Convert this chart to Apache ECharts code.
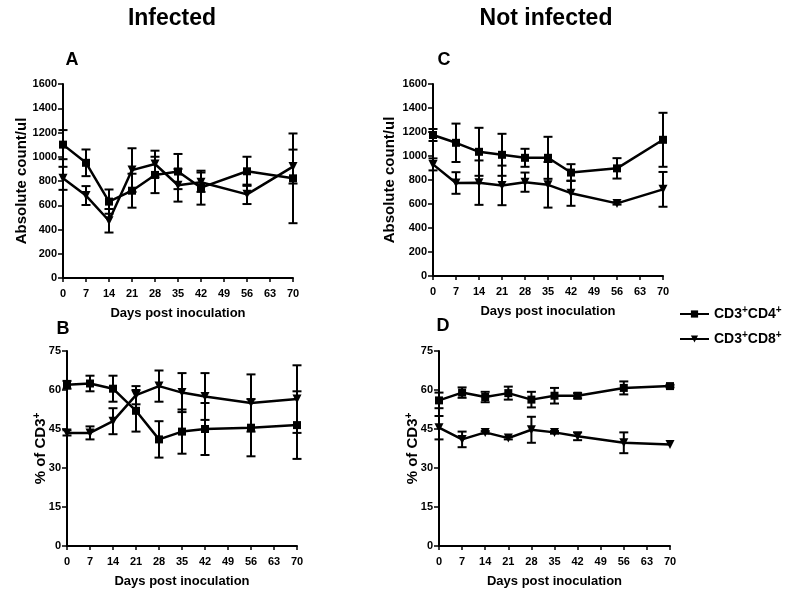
<!DOCTYPE html>
<html>
<head>
<meta charset="utf-8">
<script src="https://cdn.jsdelivr.net/npm/echarts@6/dist/echarts.min.js"></script>
<style>
html,body{margin:0;padding:0;background:#fff;}
#chart{width:800px;height:604px;}
</style>
</head>
<body>
<div id="chart"></div>
<script>
// ---- data ----
const days = [0, 7, 14, 21, 28, 35, 42, 56, 70];
const xTicks = [0, 7, 14, 21, 28, 35, 42, 49, 56, 63, 70];

// Panel A: infected, absolute count/ul
const aCD4 = [1100, 950, 630, 720, 850, 878, 745, 880, 822];
const aCD4Err = [120, 110, 100, 140, 150, 145, 140, 120, 370];
const aCD8 = [822, 680, 472, 890, 940, 765, 790, 690, 919];
const aCD8Err = [95, 78, 97, 180, 110, 135, 80, 80, 140];

// Panel B: infected, % of CD3+
const bCD4 = [62, 62.5, 60.5, 52, 41, 44, 45, 45.5, 46.5];
const bCD4Err = [1.5, 3, 5, 8, 7, 8.5, 10, 11, 13];
const bCD8 = [43.5, 43.5, 48, 58, 61.5, 59, 57.5, 55, 56.5];
const bCD8Err = [1, 2.5, 5, 3.5, 6, 7.5, 9, 11, 13];

// Panel C: not infected, absolute count/ul
const cCD4 = [1175, 1110, 1035, 1010, 985, 985, 862, 897, 1135];
const cCD4Err = [50, 160, 200, 175, 75, 175, 70, 85, 225];
const cCD8 = [930, 775, 778, 755, 782, 760, 690, 605, 722];
const cCD8Err = [50, 90, 185, 165, 80, 190, 105, 10, 145];

// Panel D: not infected, % of CD3+
const dCD4 = [56, 59, 57.3, 58.8, 56.3, 57.8, 57.8, 60.8, 61.5];
const dCD4Err = [3, 2, 2, 2.5, 3, 3, 1, 2.5, 0.5];
const dCD8 = [45.5, 41, 43.7, 41.5, 44.7, 43.7, 42.2, 39.7, 39];
const dCD8Err = [4.5, 3, 0.5, 0.5, 5, 0.5, 1.5, 4, 0];

const countTicks = { min: 0, max: 1600, interval: 200 };
const pctTicks = { min: 0, max: 75, interval: 15 };

// ---- chart ----
const FONT = "'Liberation Sans', Arial, sans-serif";
const chart = echarts.init(document.getElementById('chart'));

const grids = [
  { left: 63, top: 84, width: 230, height: 194 },
  { left: 67, top: 351, width: 230, height: 195 },
  { left: 433, top: 84, width: 230, height: 192 },
  { left: 439, top: 351, width: 231, height: 195 }
];

function xAxis(i) {
  return {
    type: 'value', gridIndex: i, min: 0, max: 70, interval: 7,
    name: 'Days post inoculation', nameLocation: 'middle', nameGap: 29,
    nameTextStyle: { fontFamily: FONT, fontWeight: 'bold', fontSize: 13, color: '#000' },
    axisLine: { show: true, onZero: false, lineStyle: { color: '#000', width: 2 } },
    axisTick: { show: true, length: 4, lineStyle: { color: '#000', width: 1.5 } },
    axisLabel: { fontFamily: FONT, fontWeight: 'bold', fontSize: 11, color: '#000', margin: 10 },
    splitLine: { show: false }
  };
}
function yAxis(i, ticks, isPct, gap) {
  return {
    type: 'value', gridIndex: i, min: ticks.min, max: ticks.max, interval: ticks.interval,
    name: isPct ? '{a|% of CD3}{s|+}' : 'Absolute count/ul',
    nameLocation: 'middle', nameGap: gap, nameMoveOverlap: false,
    nameTextStyle: {
      fontFamily: FONT, fontWeight: 'bold', fontSize: 15, color: '#000',
      rich: {
        a: { fontFamily: FONT, fontWeight: 'bold', fontSize: 15, color: '#000', lineHeight: 18 },
        s: { fontFamily: FONT, fontWeight: 'bold', fontSize: 10, color: '#000', verticalAlign: 'top', lineHeight: 10 }
      }
    },
    axisLine: { show: true, lineStyle: { color: '#000', width: 2 } },
    axisTick: { show: true, length: 5, lineStyle: { color: '#000', width: 1.5 } },
    axisLabel: { fontFamily: FONT, fontWeight: 'bold', fontSize: 11, color: '#000', margin: 6,
                 formatter: function (v) { return String(v); } },
    splitLine: { show: false }
  };
}

function lineSeries(name, vals, i, tri) {
  return {
    name: name, type: 'line', xAxisIndex: i, yAxisIndex: i,
    data: days.map((d, k) => [d, vals[k]]),
    symbol: tri ? 'triangle' : 'rect',
    symbolSize: tri ? 9 : 8,
    symbolRotate: tri ? 180 : 0,
    lineStyle: { color: '#000', width: 2.5 },
    itemStyle: { color: '#000' },
    z: 3
  };
}
function errRender(params, api) {
  const x = api.value(0), lo = api.value(1), hi = api.value(2);
  if (hi - lo <= 0) return null;
  const pH = api.coord([x, hi]);
  const pL = api.coord([x, lo]);
  const w = 4.5;
  const st = { stroke: '#000', lineWidth: 2 };
  return {
    type: 'group',
    children: [
      { type: 'line', shape: { x1: pH[0], y1: pH[1], x2: pL[0], y2: pL[1] }, style: st },
      { type: 'line', shape: { x1: pH[0] - w, y1: pH[1], x2: pH[0] + w, y2: pH[1] }, style: st },
      { type: 'line', shape: { x1: pL[0] - w, y1: pL[1], x2: pL[0] + w, y2: pL[1] }, style: st }
    ]
  };
}
function errSeries(vals, errs, i) {
  return {
    type: 'custom', xAxisIndex: i, yAxisIndex: i, renderItem: errRender,
    data: days.map((d, k) => [d, vals[k] - errs[k], vals[k] + errs[k]]),
    clip: false, z: 2, silent: true
  };
}

const panels = [
  [aCD4, aCD4Err, aCD8, aCD8Err],
  [bCD4, bCD4Err, bCD8, bCD8Err],
  [cCD4, cCD4Err, cCD8, cCD8Err],
  [dCD4, dCD4Err, dCD8, dCD8Err]
];
const series = [];
panels.forEach((p, i) => {
  series.push(errSeries(p[0], p[1], i));
  series.push(errSeries(p[2], p[3], i));
  series.push(lineSeries('CD4', p[0], i, false));
  series.push(lineSeries('CD8', p[2], i, true));
});

const legendRich = {
  n: { fontFamily: FONT, fontWeight: 'bold', fontSize: 14, color: '#000', lineHeight: 18 },
  s: { fontFamily: FONT, fontWeight: 'bold', fontSize: 10, color: '#000', verticalAlign: 'top', lineHeight: 10 }
};

function label(text, x, y, size) {
  return {
    type: 'text', x: x, y: y,
    style: { text: text, fontFamily: FONT, fontWeight: 'bold', fontSize: size, fill: '#000',
             textAlign: 'center', textVerticalAlign: 'middle' }
  };
}

chart.setOption({
  animation: false,
  backgroundColor: '#fff',
  grid: grids,
  xAxis: [0, 1, 2, 3].map(xAxis),
  yAxis: [
    yAxis(0, countTicks, false, 34),
    yAxis(1, pctTicks, true, 17),
    yAxis(2, countTicks, false, 36),
    yAxis(3, pctTicks, true, 17)
  ],
  legend: {
    orient: 'vertical', left: 679, top: 305, padding: 0,
    itemWidth: 29, itemHeight: 9, itemGap: 9,
    data: ['CD4', 'CD8'],
    formatter: function (n) {
      return n === 'CD4' ? '{n|CD3}{s|+}{n|CD4}{s|+}' : '{n|CD3}{s|+}{n|CD8}{s|+}';
    },
    textStyle: { rich: legendRich },
    selectedMode: false
  },
  graphic: [
    label('Infected', 172, 19, 23),
    label('Not infected', 546, 19, 23),
    label('A', 72, 60, 18),
    label('B', 63, 329, 18),
    label('C', 444, 60, 18),
    label('D', 443, 326, 18)
  ],
  series: series
});
</script>
</body>
</html>
